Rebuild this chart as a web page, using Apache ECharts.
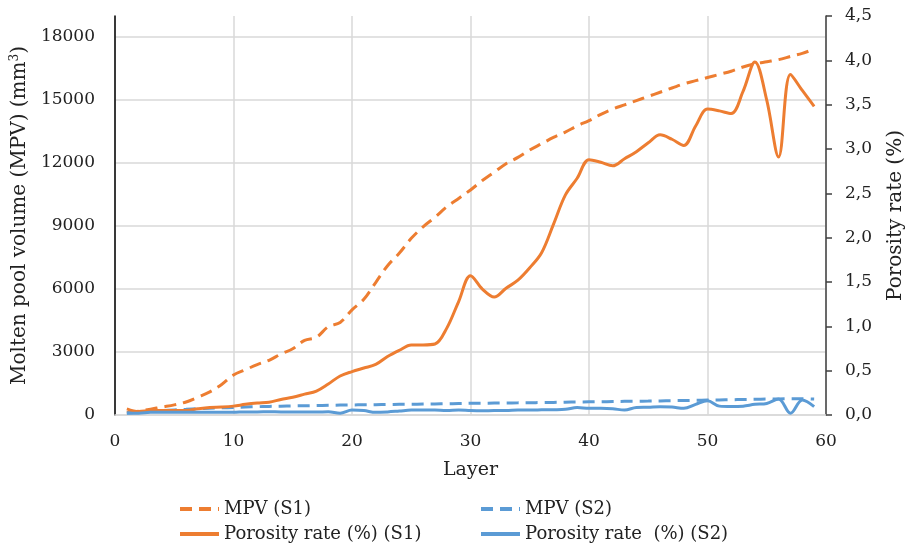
<!DOCTYPE html>
<html>
<head>
<meta charset="utf-8">
<script src="https://cdn.jsdelivr.net/npm/echarts@6/dist/echarts.min.js"></script>
<style>
  html, body { margin: 0; padding: 0; background: #fff; }
  #chart { width: 907px; height: 550px; }
</style>
</head>
<body>
<div id="chart"></div>
<script>
// layers 1..59
const layers = [1, 2, 3, 4, 5, 6, 7, 8, 9, 10, 11, 12, 13, 14, 15, 16, 17, 18, 19, 20,
  21, 22, 23, 24, 25, 26, 27, 28, 29, 30, 31, 32, 33, 34, 35, 36, 37, 38, 39, 40,
  41, 42, 43, 44, 45, 46, 47, 48, 49, 50, 51, 52, 53, 54, 55, 56, 57, 58, 59];

// molten pool volume (mm3), left axis
const mpvS1 = [120, 180, 280, 380, 480, 620, 850, 1100, 1450, 1900,
  2150, 2400, 2600, 2900, 3150, 3550, 3700, 4200, 4400, 5000,
  5500, 6300, 7100, 7700, 8400, 8950, 9400, 9900, 10300, 10700,
  11150, 11550, 11950, 12250, 12600, 12900, 13200, 13450, 13750, 14000,
  14300, 14550, 14750, 14950, 15150, 15350, 15550, 15750, 15900, 16050,
  16200, 16350, 16550, 16700, 16800, 16900, 17050, 17200, 17400];
const mpvS2 = [90, 130, 180, 210, 240, 270, 300, 320, 340, 360,
  380, 395, 410, 420, 430, 440, 450, 460, 470, 478,
  485, 492, 500, 507, 514, 520, 527, 535, 545, 555,
  560, 566, 572, 578, 585, 592, 600, 610, 618, 625,
  632, 640, 648, 655, 662, 670, 678, 690, 700, 710,
  718, 728, 738, 748, 758, 765, 772, 775, 760];

// porosity rate (%), right axis
const poroS1 = [0.07, 0.04, 0.05, 0.05, 0.05, 0.05, 0.07, 0.085, 0.09, 0.10,
  0.12, 0.135, 0.145, 0.175, 0.20, 0.235, 0.27, 0.35, 0.44, 0.49,
  0.53, 0.57, 0.66, 0.73, 0.79, 0.79, 0.80, 0.98, 1.28, 1.57,
  1.42, 1.33, 1.43, 1.52, 1.66, 1.83, 2.15, 2.48, 2.67, 2.88,
  2.85, 2.81, 2.89, 2.97, 3.07, 3.16, 3.11, 3.04, 3.26, 3.45,
  3.43, 3.40, 3.65, 3.98, 3.55, 2.91, 3.84, 3.66, 3.48];
const poroS2 = [0.02, 0.02, 0.03, 0.03, 0.03, 0.03, 0.03, 0.03, 0.03, 0.03,
  0.035, 0.035, 0.037, 0.035, 0.035, 0.034, 0.034, 0.036, 0.02, 0.056,
  0.05, 0.03, 0.035, 0.045, 0.055, 0.056, 0.055, 0.05, 0.055, 0.05,
  0.048, 0.05, 0.05, 0.056, 0.056, 0.058, 0.06, 0.064, 0.085, 0.075,
  0.075, 0.07, 0.056, 0.085, 0.088, 0.094, 0.09, 0.075, 0.12, 0.16,
  0.10, 0.095, 0.10, 0.12, 0.13, 0.18, 0.02, 0.17, 0.095];

const seriesNames = ['MPV (S1)', 'MPV (S2)', 'Porosity rate (%) (S1)', 'Porosity rate  (%) (S2)'];

const orange = '#ED7D31';
const blue = '#5B9BD5';
const serif = 'DejaVu Serif';
const txt = '#222';

const pairs = (vals) => vals.map((v, i) => [layers[i], v]);

const chart = echarts.init(document.getElementById('chart'));

const lineSeries = (name, vals, color, dashed, axis) => ({
  name: name,
  type: 'line',
  yAxisIndex: axis,
  data: pairs(vals),
  smooth: 0.35,
  symbol: 'none',
  showSymbol: false,
  lineStyle: { color: color, width: 3, type: dashed ? [12, 7] : 'solid' },
  itemStyle: { color: color },
  emphasis: { disabled: true },
  animation: false
});

// one legend per entry so the 2x2 layout is fixed
const legendItem = (name, left, top) => ({
  show: true,
  orient: 'horizontal',
  left: left,
  top: top,
  padding: 0,
  itemWidth: 39,
  itemHeight: 10,
  data: [name],
  selectedMode: false,
  itemStyle: { opacity: 0 },
  lineStyle: { width: 4 },
  textStyle: { fontFamily: serif, fontSize: 18, color: txt }
});

chart.setOption({
  animation: false,
  grid: { left: 115, right: 81, top: 16, bottom: 135, outerBoundsMode: 'none', containLabel: false },
  legend: [
    legendItem(seriesNames[0], 178, 500),
    legendItem(seriesNames[2], 178, 525),
    legendItem(seriesNames[1], 479, 500),
    legendItem(seriesNames[3], 479, 525)
  ],
  xAxis: {
    type: 'value',
    min: 0,
    max: 60,
    interval: 10,
    name: 'Layer',
    nameLocation: 'middle',
    nameGap: 46,
    nameTextStyle: { fontFamily: serif, fontSize: 19, color: txt },
    axisLine: { show: true, lineStyle: { color: '#d9d9d9', width: 1.5 } },
    axisTick: { show: false },
    axisLabel: { fontFamily: serif, fontSize: 17, color: txt, margin: 18 },
    splitLine: { show: true, lineStyle: { color: '#d9d9d9', width: 1.5 } }
  },
  yAxis: [
    {
      type: 'value',
      position: 'left',
      min: 0,
      max: 18975,
      interval: 3000,
      name: 'Molten pool volume (MPV) (mm{sup|3})',
      nameLocation: 'middle',
      nameRotate: 90,
      nameGap: 73,
      nameTextStyle: {
        fontFamily: serif, fontSize: 20, color: txt,
        rich: { sup: { fontFamily: serif, fontSize: 12, color: txt, verticalAlign: 'top', padding: [0, 0, 10, 0] } }
      },
      axisLine: { show: true, onZero: false, lineStyle: { color: '#000', width: 1.5 } },
      axisTick: { show: false },
      axisLabel: {
        fontFamily: serif, fontSize: 17, color: txt, margin: 20, showMaxLabel: false,
        formatter: (v) => String(v)
      },
      splitLine: { show: true, showMaxLine: false, lineStyle: { color: '#d9d9d9', width: 1.5 } }
    },
    {
      type: 'value',
      position: 'right',
      min: 0,
      max: 4.5,
      interval: 0.5,
      name: 'Porosity rate (%)',
      nameLocation: 'middle',
      nameRotate: 90,
      nameGap: 60,
      nameTextStyle: { fontFamily: serif, fontSize: 20, color: txt },
      axisLine: { show: true, onZero: false, lineStyle: { color: '#404040', width: 1.5 } },
      axisTick: { show: true, length: 6, lineStyle: { color: '#404040', width: 1.5 } },
      axisLabel: {
        fontFamily: serif, fontSize: 17, color: txt, margin: 19,
        formatter: (v) => v.toFixed(1).replace('.', ',')
      },
      splitLine: { show: false }
    }
  ],
  series: [
    lineSeries(seriesNames[0], mpvS1, orange, true, 0),
    lineSeries(seriesNames[1], mpvS2, blue, true, 0),
    lineSeries(seriesNames[2], poroS1, orange, false, 1),
    lineSeries(seriesNames[3], poroS2, blue, false, 1)
  ]
});
</script>
</body>
</html>
